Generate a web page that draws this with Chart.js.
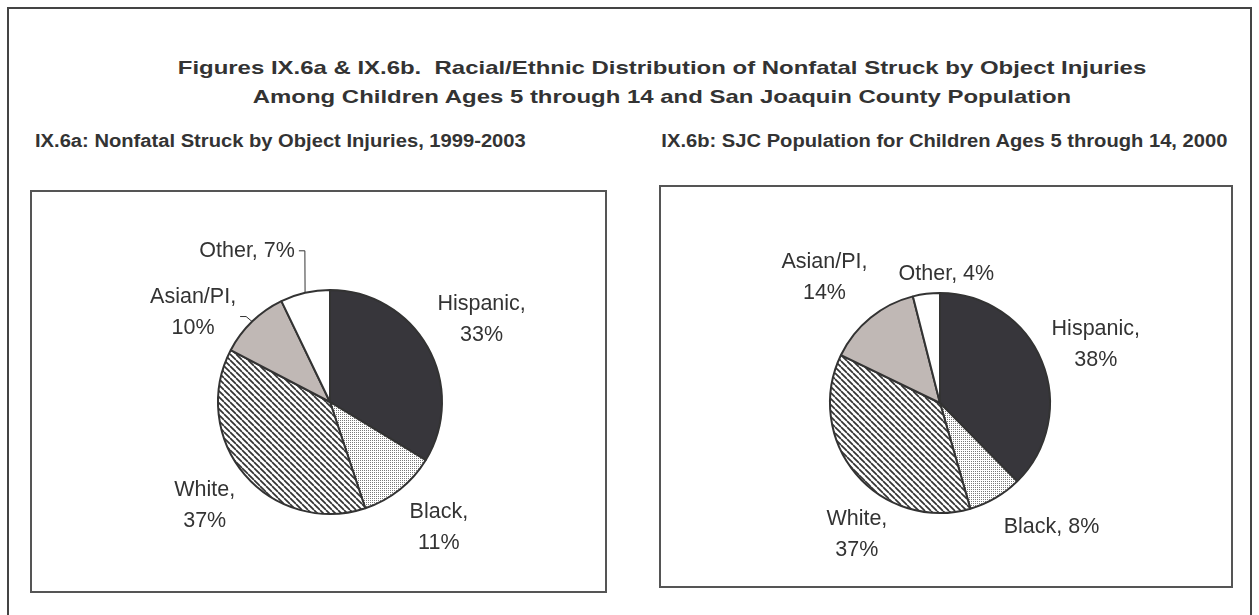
<!DOCTYPE html>
<html>
<head>
<meta charset="utf-8">
<script src="https://cdn.jsdelivr.net/npm/chart.js@4/dist/chart.umd.min.js"></script>
<style>
  body { margin: 0; background: #fff; font-family: "Liberation Sans", Arial, sans-serif; color: #333; }
  #frame { position: absolute; left: 7px; top: 7px; width: 1245px; height: 640px; border: 2px solid #444; box-sizing: border-box; }
  .title { position: absolute; left: 62px; width: 1200px; top: 53px; text-align: center; font-weight: bold; font-size: 19px; line-height: 29px; white-space: pre; transform: scaleX(1.26); transform-origin: 50% 0; }
  .sub { position: absolute; top: 131px; font-weight: bold; font-size: 18px; line-height: 20px; white-space: nowrap; transform: scaleX(1.12); }
  .box { position: absolute; border: 2px solid #555; box-sizing: border-box; }
  .box canvas { display: block; }
</style>
</head>
<body>
<div id="frame"></div>
<div class="title">Figures IX.6a &amp; IX.6b.  Racial/Ethnic Distribution of Nonfatal Struck by Object Injuries
Among Children Ages 5 through 14 and San Joaquin County Population</div>
<div class="sub" style="left:35px; transform-origin: 0 0">IX.6a: Nonfatal Struck by Object Injuries, 1999-2003</div>
<div class="sub" style="right:32px; transform-origin: 100% 0">IX.6b: SJC Population for Children Ages 5 through 14, 2000</div>

<div class="box" style="left:30px; top:190px; width:577px; height:403px">
  <canvas id="injuryPie" width="573" height="399"></canvas>
</div>
<div class="box" style="left:659px; top:185px; width:574px; height:403px">
  <canvas id="populationPie" width="570" height="399"></canvas>
</div>

<script>
// --- data (percent) ---
const categories = ['Hispanic', 'Black', 'White', 'Asian/PI', 'Other'];
const injuryShares = [33, 11, 37, 10, 7];
const populationShares = [38, 8, 37, 14, 4];

// label placement, relative to the outer edge of each slice
const injuryLabelPlacement = [
  { dx: 54, dy: -27, wrap: true },
  { dx: 39, dy: 38, wrap: true },
  { dx: -40, dy: 31, wrap: true },
  { dx: -59, dy: -9, wrap: true, leader: true, leaderDy: 4 },
  { dx: -58, dy: -42, wrap: false, leader: true, leaderDy: 0 }
];
const populationLabelPlacement = [
  { dx: 54, dy: -17, wrap: true },
  { dx: 56, dy: 29, wrap: false },
  { dx: 1, dy: 61, wrap: true },
  { dx: -46, dy: -40, wrap: true },
  { dx: 20, dy: -20, wrap: false }
];

// fill patterns
function dotPattern() {
  const c = document.createElement('canvas');
  c.width = 2; c.height = 2;
  const g = c.getContext('2d');
  g.fillStyle = '#fff';
  g.fillRect(0, 0, 2, 2);
  g.fillStyle = '#7a7a7a';
  g.fillRect(0, 0, 1, 1);
  return g.createPattern(c, 'repeat');
}

function stripePattern() {
  const s = 6;
  const c = document.createElement('canvas');
  c.width = s; c.height = s;
  const g = c.getContext('2d');
  g.fillStyle = '#fff';
  g.fillRect(0, 0, s, s);
  g.strokeStyle = '#333';
  g.lineWidth = 1.7;
  [-s, 0, s].forEach(k => {
    g.beginPath();
    g.moveTo(k, 0);
    g.lineTo(k + s, s);
    g.stroke();
  });
  return g.createPattern(c, 'repeat');
}

const sliceFills = ['#37363b', dotPattern(), stripePattern(), '#c0b8b5', '#ffffff'];

const pieLabels = {
  id: 'pieLabels',
  afterDatasetsDraw(chart, args, opts) {
    const ctx = chart.ctx;
    const meta = chart.getDatasetMeta(0);
    const values = chart.data.datasets[0].data;
    ctx.save();
    ctx.font = '21.5px "Liberation Sans", Arial, sans-serif';
    ctx.fillStyle = '#333';
    ctx.strokeStyle = '#333';
    ctx.lineWidth = 1;
    ctx.textAlign = 'center';
    ctx.textBaseline = 'middle';
    meta.data.forEach((arc, i) => {
      const p = arc.getProps(['x', 'y', 'startAngle', 'endAngle', 'outerRadius'], true);
      const mid = (p.startAngle + p.endAngle) / 2;
      const ex = p.x + Math.cos(mid) * p.outerRadius;
      const ey = p.y + Math.sin(mid) * p.outerRadius;
      const place = opts.placement[i];
      const cx = ex + place.dx;
      const cy = ey + place.dy;
      const lines = place.wrap
        ? [chart.data.labels[i] + ',', values[i] + '%']
        : [chart.data.labels[i] + ', ' + values[i] + '%'];
      const lh = 31;
      lines.forEach((t, j) => {
        ctx.fillText(t, cx, cy + (j - (lines.length - 1) / 2) * lh);
      });
      if (place.leader) {
        const w = Math.max(...lines.map(t => ctx.measureText(t).width));
        const endX = cx + w / 2 + 4;
        const endY = cy + place.leaderDy;
        ctx.beginPath();
        ctx.moveTo(endX, endY);
        ctx.lineTo(endX + 6, endY);
        ctx.lineTo(ex, ey);
        ctx.stroke();
      }
    });
    ctx.restore();
  }
};

function makePie(id, values, radius, padding, placement) {
  return new Chart(document.getElementById(id), {
    type: 'pie',
    data: {
      labels: categories,
      datasets: [{
        data: values,
        backgroundColor: sliceFills,
        borderColor: '#333',
        borderWidth: 2,
        radius: radius
      }]
    },
    options: {
      responsive: false,
      animation: false,
      devicePixelRatio: 1,
      layout: { padding: padding },
      plugins: {
        legend: { display: false },
        tooltip: { enabled: false },
        pieLabels: { placement: placement }
      }
    },
    plugins: [pieLabels]
  });
}

makePie('injuryPie', injuryShares, 112, { left: 23, right: 0, top: 21, bottom: 0 }, injuryLabelPlacement);
makePie('populationPie', populationShares, 110, { left: 0, right: 12, top: 33, bottom: 0 }, populationLabelPlacement);
</script>
</body>
</html>
